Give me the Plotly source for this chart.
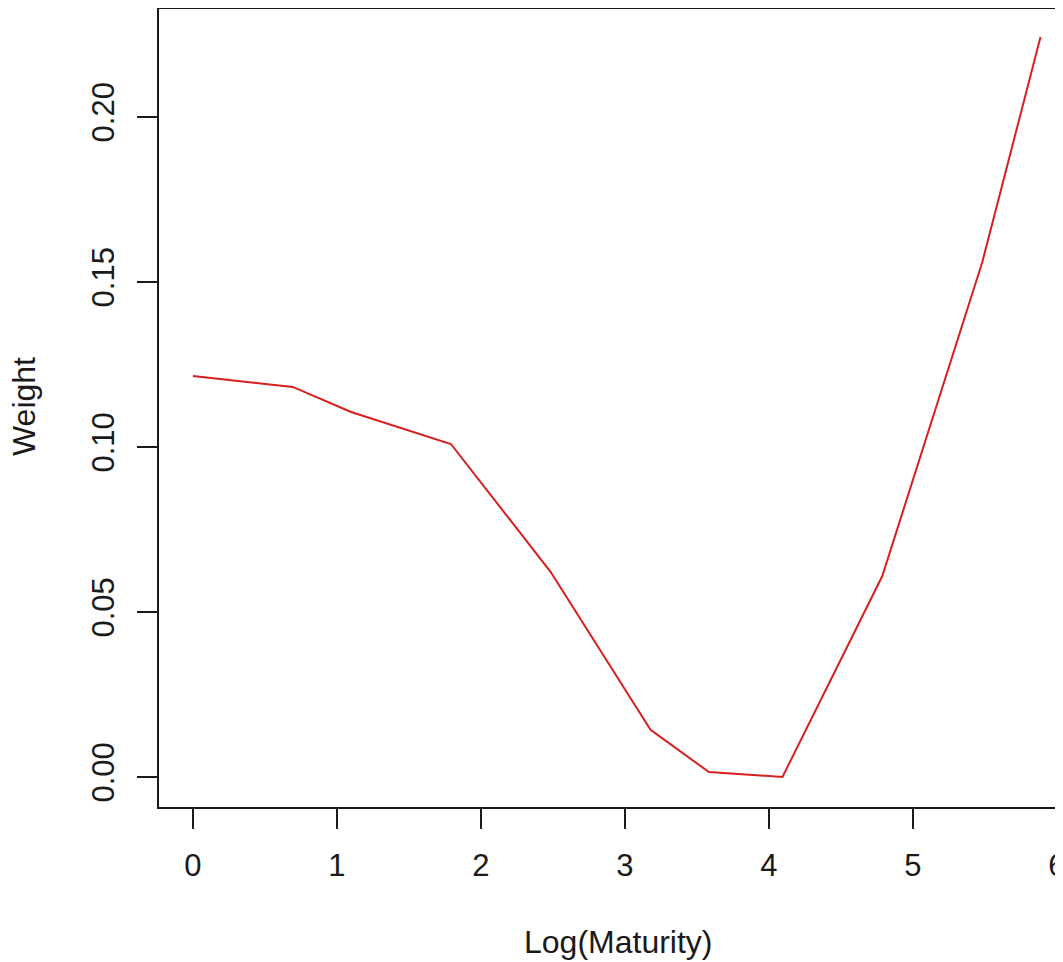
import numpy as np
import plotly.graph_objects as go

# Data: maturities (months) and weights
maturity = [1, 2, 3, 6, 12, 24, 36, 60, 120, 240, 360]
weight = [0.1215, 0.1182, 0.1106, 0.1009, 0.0621, 0.0143, 0.0015, 0.0000, 0.0609, 0.1558, 0.2242]
x_ticks = [0, 1, 2, 3, 4, 5, 6]
y_ticks = [0.00, 0.05, 0.10, 0.15, 0.20]
y_tick_labels = ["0.00", "0.05", "0.10", "0.15", "0.20"]

log_mat = np.log(maturity)

FONT = "Liberation Sans, Arial, sans-serif"
INK = "#1a1a1a"

# the page body adds an 8px offset; the figure is sized to fill the rest
W, H = 1055, 954
ML, MT, MB = 151, 0, 155
PLOT_W = W - ML
PLOT_H = H - MT - MB

fig = go.Figure()
fig.add_trace(go.Scatter(
    x=log_mat, y=weight, mode="lines",
    line=dict(color="#d61f1f", width=2),
    showlegend=False,
))

fig.update_layout(
    width=W, height=H,
    margin=dict(l=ML, r=0, t=MT, b=MB),
    paper_bgcolor="white", plot_bgcolor="white",
    font=dict(family=FONT, size=31, color=INK),
    xaxis=dict(
        range=[-0.2354, -0.2354 + PLOT_W / 144],
        tickvals=x_ticks, ticktext=[str(v) for v in x_ticks],
        ticks="outside", ticklen=20, tickwidth=2, tickcolor=INK,
        showline=True, linecolor=INK, linewidth=2, mirror=False,
        showgrid=False, zeroline=False, automargin=False,
        ticklabelstandoff=10, ticklabeloverflow="allow",
    ),
    yaxis=dict(
        range=[-0.00909, 0.2330],
        tickvals=y_ticks, ticktext=y_tick_labels, tickangle=-90,
        ticks="outside", ticklen=20, tickwidth=2, tickcolor=INK,
        showline=True, linecolor=INK, linewidth=2, mirror=False,
        showgrid=False, zeroline=False, automargin=False,
        ticklabelstandoff=11, ticklabeloverflow="allow",
    ),
    shapes=[dict(type="line", xref="paper", yref="paper", x0=0, x1=1, y0=1, y1=1,
                 line=dict(color=INK, width=2))],
    annotations=[
        dict(text="Log(Maturity)", xref="paper", yref="paper",
             x=(618 - 8 - ML) / PLOT_W, y=(PLOT_H - (942 - 8)) / PLOT_H,
             xanchor="center", yanchor="middle", showarrow=False,
             font=dict(size=32, family=FONT, color=INK)),
        dict(text="Weight", xref="paper", yref="paper",
             x=(24 - 8 - ML) / PLOT_W, y=(PLOT_H - (407 - 8)) / PLOT_H, textangle=-90,
             xanchor="center", yanchor="middle", showarrow=False,
             font=dict(size=32, family=FONT, color=INK)),
    ],
)

fig.write_html("out.html")
